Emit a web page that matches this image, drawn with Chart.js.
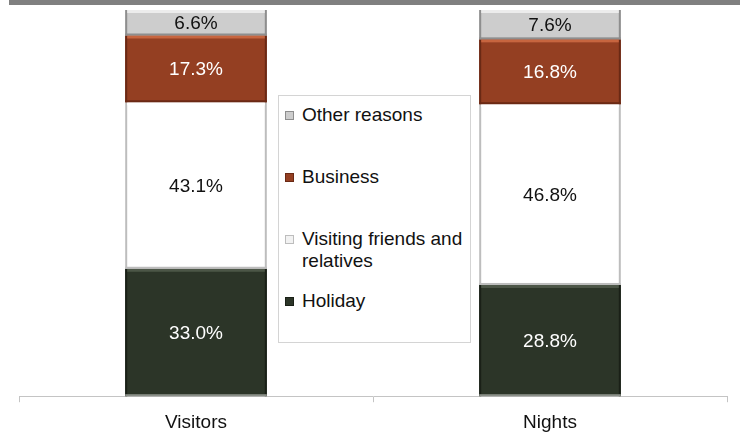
<!DOCTYPE html>
<html>
<head>
<meta charset="utf-8">
<script src="https://cdn.jsdelivr.net/npm/chart.js@4.4.0/dist/chart.umd.min.js"></script>
<style>
  body { margin: 0; background: #fff; font-family: "Liberation Sans", Arial, sans-serif; }
  #wrap { position: relative; width: 740px; height: 434px; }
  #topbar { position: absolute; left: 9px; top: 0; width: 731px; height: 5px; background: #808080; }
  #legend {
    position: absolute; left: 278px; top: 95px; width: 191px; height: 238px;
    border: 1px solid #d4d4d4; background: #fff; box-sizing: content-box;
    padding-top: 8px;
  }
  .item { display: flex; align-items: flex-start; height: 62px; font-size: 19px; line-height: 22px; color: #111; }
  .mark { flex: none; width: 7px; height: 7px; margin: 7px 8px 0 6px; border: 1px solid; }
  .txt { width: 172px; }
</style>
</head>
<body>
<div id="wrap">
  <div id="topbar"></div>
  <canvas id="purposeChart"></canvas>
  <div id="legend"></div>
</div>
<script>
// Share of visitors and nights by purpose of trip (%)
var categories = ['Visitors', 'Nights'];
var seriesNames = ['Holiday', 'Visiting friends and relatives', 'Business', 'Other reasons'];
var holiday = [33.0, 28.8];
var visitingFriends = [43.1, 46.8];
var business = [17.3, 16.8];
var otherReasons = [6.6, 7.6];

// fill, top highlight, side shadow, bottom edge, label colour
var fills = ['#2c3528', '#ffffff', '#943f22', '#cdcdcd'];
var lights = ['#4c5647', '#ffffff', '#c7653f', '#ececec'];
var shades = ['#1a2017', '#bdbdbd', '#6a2914', '#8e8e8e'];
var bottoms = ['#8a8f88', '#bdbdbd', '#6a2914', '#8e8e8e'];
var labelColors = ['#ffffff', '#111111', '#ffffff', '#111111'];

var values = [holiday, visitingFriends, business, otherReasons];

var datasets = seriesNames.map(function (name, i) {
  return {
    label: name,
    data: values[i],
    backgroundColor: fills[i],
    borderWidth: 0,
    categoryPercentage: 0.4,
    barPercentage: 1.0
  };
});

// bevelled edges on every segment
var bevelPlugin = {
  id: 'bevel',
  afterDatasetsDraw: function (chart) {
    var ctx = chart.ctx;
    chart.data.datasets.forEach(function (ds, i) {
      chart.getDatasetMeta(i).data.forEach(function (bar) {
        var l = bar.x - bar.width / 2, r = bar.x + bar.width / 2;
        var t = Math.min(bar.y, bar.base), b = Math.max(bar.y, bar.base);
        ctx.save();
        ctx.fillStyle = shades[i];
        ctx.fillRect(l, t, 2, b - t);
        ctx.fillRect(r - 2, t, 2, b - t);
        ctx.fillStyle = bottoms[i];
        ctx.fillRect(l, b - 2, r - l, 2);
        ctx.fillStyle = lights[i];
        ctx.fillRect(l + 2, t, r - l - 4, 3);
        ctx.restore();
      });
    });
  }
};

// value labels in the middle of each segment
var valueLabels = {
  id: 'valueLabels',
  afterDatasetsDraw: function (chart) {
    var ctx = chart.ctx;
    ctx.save();
    ctx.font = '19px "Liberation Sans", Arial, sans-serif';
    ctx.textAlign = 'center';
    ctx.textBaseline = 'middle';
    chart.data.datasets.forEach(function (ds, i) {
      chart.getDatasetMeta(i).data.forEach(function (bar, j) {
        var p = bar.getCenterPoint();
        ctx.fillStyle = labelColors[i];
        ctx.fillText(ds.data[j].toFixed(1) + '%', p.x, p.y + 1);
      });
    });
    ctx.restore();
  }
};

var chart = new Chart(document.getElementById('purposeChart'), {
  type: 'bar',
  data: { labels: categories, datasets: datasets },
  options: {
    responsive: true,
    maintainAspectRatio: false,
    animation: false,
    layout: { padding: { left: 19, right: 13, top: 10, bottom: -9 } },
    plugins: { legend: { display: false }, tooltip: { enabled: false } },
    scales: {
      x: {
        stacked: true,
        grid: { display: true, drawOnChartArea: false, offset: true, tickLength: 6, color: '#c4c4c4' },
        border: { color: '#c4c4c4', width: 1 },
        ticks: { color: '#111', padding: 9, font: { family: '"Liberation Sans", Arial, sans-serif', size: 19 } }
      },
      y: { stacked: true, display: false, min: 0, max: 100 }
    }
  },
  plugins: [bevelPlugin, valueLabels]
});

// legend, top series first
var legend = document.getElementById('legend');
for (var i = seriesNames.length - 1; i >= 0; i--) {
  var item = document.createElement('div');
  item.className = 'item';
  var mark = document.createElement('span');
  mark.className = 'mark';
  mark.style.background = fills[i] === '#ffffff' ? '#f2f2f2' : fills[i];
  mark.style.borderColor = shades[i];
  var txt = document.createElement('span');
  txt.className = 'txt';
  txt.textContent = seriesNames[i];
  item.appendChild(mark);
  item.appendChild(txt);
  legend.appendChild(item);
}
</script>
</body>
</html>
